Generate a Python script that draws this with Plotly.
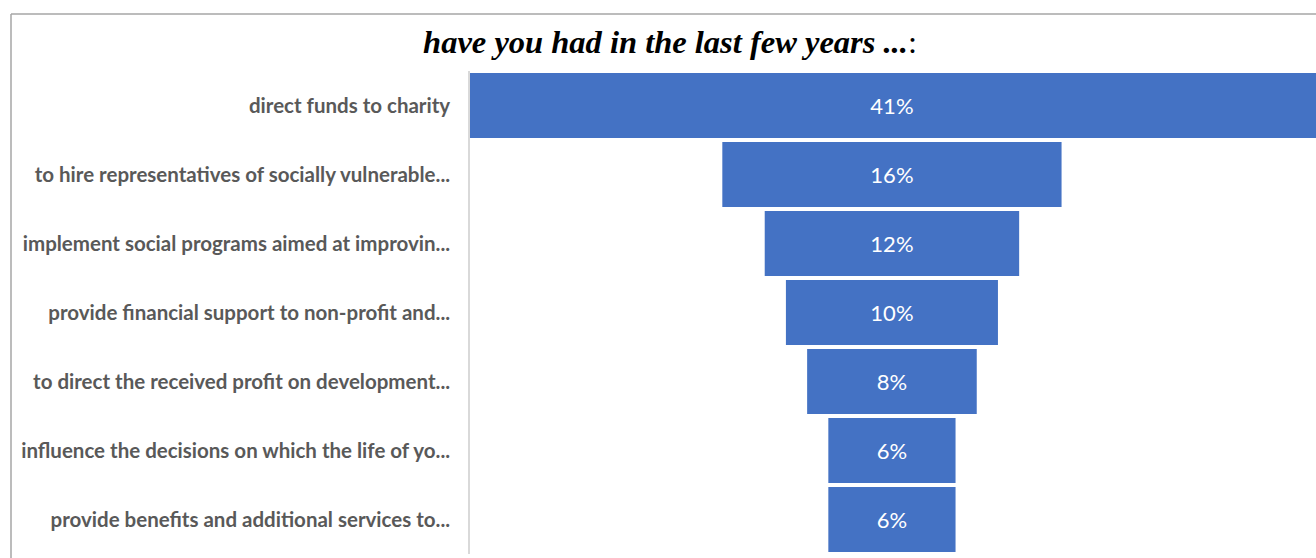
import plotly.graph_objects as go

categories = [
    "direct funds to charity",
    "to hire representatives of socially vulnerable...",
    "implement social programs aimed at improvin...",
    "provide financial support to non-profit and...",
    "to direct the received profit on development...",
    "influence the decisions on which the life of yo...",
    "provide benefits and additional services to...",
]
values = [41, 16, 12, 10, 8, 6, 6]
labels = [f"{v}%" for v in values]

W, H = 1316, 558
L, R, T, B = 470, 0, 71, 4
pw, ph = W - L - R, H - T - B

def px_x(p):
    return (p - L) / pw

def px_y(p):
    return (H - B - p) / ph

fig = go.Figure(go.Funnel(
    y=categories,
    x=values,
    text=labels,
    textinfo="text",
    textposition="inside",
    insidetextanchor="middle",
    textfont=dict(family="Lato", size=22, color="white"),
    marker=dict(color="#4472C4", line=dict(width=0)),
    connector=dict(visible=False),
    hoverinfo="skip",
))

fig.update_layout(
    width=W, height=H,
    margin=dict(l=L, r=R, t=T, b=B),
    paper_bgcolor="white", plot_bgcolor="white",
    funnelgap=0.06,
    showlegend=False,
    title=dict(
        text="<b><i>have you had in the last few years ...</i></b>:",
        font=dict(family="Liberation Serif", size=32.5, color="black"),
        x=670 / W, xanchor="center", xref="container",
        y=(H - 42) / H, yanchor="middle", yref="container",
    ),
    xaxis=dict(range=[-19.9, 20.0], visible=False, fixedrange=True),
    yaxis=dict(
        showline=True, linecolor="#d9d9d9", linewidth=1.5,
        ticks="", showgrid=False, zeroline=False,
        tickfont=dict(family="Lato", size=20.5, color="#595959", weight="bold"),
        ticklabelstandoff=14,
    ),
    shapes=[
        dict(type="line", xref="paper", yref="paper",
             x0=px_x(11), x1=px_x(1330), y0=px_y(14), y1=px_y(14),
             line=dict(color="#a6a6a6", width=1.5)),
        dict(type="line", xref="paper", yref="paper",
             x0=px_x(11), x1=px_x(11), y0=px_y(14), y1=px_y(570),
             line=dict(color="#a6a6a6", width=1.5)),
    ],
)

fig.write_html("out.html")
